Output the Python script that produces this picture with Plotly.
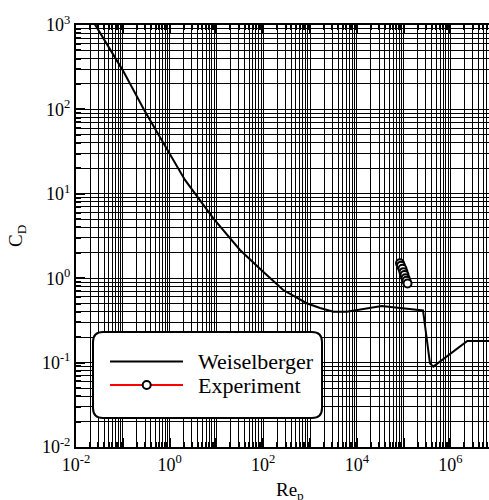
import plotly.graph_objects as go

# Weiselberger standard drag curve
re_weis = [0.024, 0.1, 0.288, 1.0, 2.13, 8.6, 31.9, 100, 268, 849, 1640, 3150, 6100, 34000, 2.6e5, 3.66e5, 4.31e5, 2.3e6, 1e7]
cd_weis = [1070, 290, 98, 30.2, 14.6, 5.13, 2.16, 1.19, 0.724, 0.505, 0.443, 0.40, 0.40, 0.469, 0.415, 0.098, 0.0895, 0.18, 0.18]

# Experiment points
re_exp = [83800, 87900, 94600, 99500, 104500, 109800, 115400, 121200]
cd_exp = [1.50, 1.40, 1.29, 1.18, 1.09, 1.00, 0.93, 0.865]

x_major = [10.0 ** k for k in range(-2, 8)]
x_labels = ["10<sup>%d</sup>" % k if k % 2 == 0 else "" for k in range(-2, 8)]
y_major = [10.0 ** k for k in range(-2, 4)]
y_labels = ["10<sup>%d</sup>" % k for k in range(-2, 4)]

x_minor = [m * 10.0 ** k for k in range(-2, 7) for m in range(2, 10)]
y_minor = [m * 10.0 ** k for k in range(-2, 3) for m in range(2, 10)]

W, H = 489, 500
L, T, B, R = 76, 25, 53, 0
pw, ph = W - L - R, H - T - B
x_end = -2 + pw / 46.8

font_fam = "Liberation Serif, Times New Roman, serif"

fig = go.Figure()
fig.add_trace(go.Scatter(x=re_weis, y=cd_weis, mode="lines",
                         line=dict(color="black", width=2), name="Weiselberger",
                         showlegend=False))
fig.add_trace(go.Scatter(x=re_exp, y=cd_exp, mode="lines+markers",
                         line=dict(color="red", width=2),
                         marker=dict(symbol="circle", size=8, color="white",
                                     line=dict(color="black", width=2)),
                         name="Experiment", showlegend=False))

def px2paper(px, py):
    return (px - L) / pw, (H - B - py) / ph

# rounded legend box
x0, y0, x1, y1 = 93, 332, 322, 418
r = 10
rx, ry = r / pw, r / ph
ax0, ay1 = px2paper(x0, y0)
ax1, ay0 = px2paper(x1, y1)
path = (f"M {ax0+rx},{ay1} L {ax1-rx},{ay1} Q {ax1},{ay1} {ax1},{ay1-ry} "
        f"L {ax1},{ay0+ry} Q {ax1},{ay0} {ax1-rx},{ay0} "
        f"L {ax0+rx},{ay0} Q {ax0},{ay0} {ax0},{ay0+ry} "
        f"L {ax0},{ay1-ry} Q {ax0},{ay1} {ax0+rx},{ay1} Z")
shapes = [dict(type="path", path=path, xref="paper", yref="paper",
               line=dict(color="black", width=2), fillcolor="white", layer="above")]

lx0, _ = px2paper(110, 0)
lx1, _ = px2paper(183, 0)
_, ly1 = px2paper(0, 361.5)
_, ly2 = px2paper(0, 385)
shapes.append(dict(type="line", xref="paper", yref="paper", x0=lx0, x1=lx1, y0=ly1, y1=ly1,
                   line=dict(color="black", width=2), layer="above"))
shapes.append(dict(type="line", xref="paper", yref="paper", x0=lx0, x1=lx1, y0=ly2, y1=ly2,
                   line=dict(color="red", width=2), layer="above"))
cx, _ = px2paper(146.7, 0)
shapes.append(dict(type="circle", xref="paper", yref="paper",
                   x0=cx - 4 / pw, x1=cx + 4 / pw, y0=ly2 - 4 / ph, y1=ly2 + 4 / ph,
                   line=dict(color="black", width=2), fillcolor="white", layer="above"))

tx, _ = px2paper(196, 0)
annotations = [
    dict(text="Weiselberger", x=tx, y=ly1, xref="paper", yref="paper", xanchor="left",
         yanchor="middle", showarrow=False, font=dict(family=font_fam, size=22, color="black")),
    dict(text="Experiment", x=tx, y=ly2, xref="paper", yref="paper", xanchor="left",
         yanchor="middle", showarrow=False, font=dict(family=font_fam, size=22, color="black")),
    dict(text="C<sub>D</sub>", x=(17 - L) / pw, y=0.5, xref="paper", yref="paper",
         xanchor="center", yanchor="middle", textangle=-90, showarrow=False,
         font=dict(family=font_fam, size=19, color="black")),
    dict(text="Re<sub>p</sub>", x=(290 - L) / pw, y=(H - B - 491) / ph, xref="paper", yref="paper",
         xanchor="center", yanchor="middle", showarrow=False,
         font=dict(family=font_fam, size=19, color="black")),
]

fig.update_layout(
    width=W, height=H,
    margin=dict(l=L, r=R, t=T, b=B, pad=0, autoexpand=False),
    paper_bgcolor="white", plot_bgcolor="white",
    showlegend=False,
    font=dict(family=font_fam, size=18, color="black"),
    shapes=shapes, annotations=annotations,
    xaxis=dict(type="log", range=[-2, x_end], tickmode="array", tickvals=x_major,
               ticktext=x_labels, ticks="inside", ticklen=9, tickwidth=1.5, tickcolor="black",
               showline=True, linecolor="black", linewidth=2, mirror="allticks",
               showgrid=True, gridcolor="black", gridwidth=1, zeroline=False, automargin=False,
               minor=dict(tickmode="array", tickvals=x_minor, ticks="inside", ticklen=5,
                          tickcolor="black", showgrid=True, gridcolor="black", gridwidth=1),
               tickfont=dict(family=font_fam, size=18, color="black")),
    yaxis=dict(type="log", range=[-2, 3], tickmode="array", tickvals=y_major,
               ticktext=y_labels, ticks="inside", ticklen=9, tickwidth=1.5, tickcolor="black",
               showline=True, linecolor="black", linewidth=2, mirror=False,
               showgrid=True, gridcolor="black", gridwidth=1, zeroline=False, automargin=False,
               minor=dict(tickmode="array", tickvals=y_minor, ticks="inside", ticklen=5,
                          tickcolor="black", showgrid=True, gridcolor="black", gridwidth=1),
               tickfont=dict(family=font_fam, size=18, color="black")),
)

fig.write_html("out.html", config={"displayModeBar": False},
               post_script="document.body.style.margin='0';document.body.style.overflow='hidden';")
